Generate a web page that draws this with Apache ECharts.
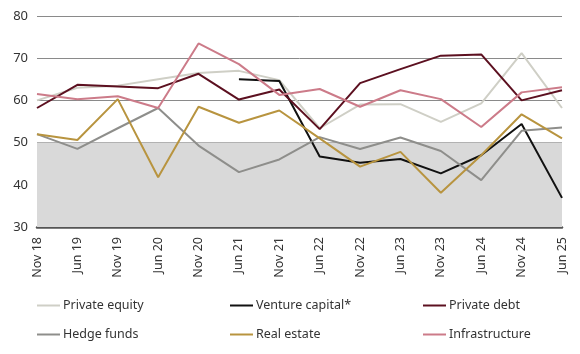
<!DOCTYPE html>
<html><head><meta charset="utf-8">
<script src="https://cdn.jsdelivr.net/npm/echarts@6/dist/echarts.min.js"></script>
<style>html,body{margin:0;padding:0;background:#fff}#c{width:580px;height:354px}</style>
</head><body><div id="c"></div>
<script>
const categories = ['Nov 18','Jun 19','Nov 19','Jun 20','Nov 20','Jun 21','Nov 21','Jun 22','Nov 22','Jun 23','Nov 23','Jun 24','Nov 24','Jun 25'];
const privateEquity = [60, 63, 63.5, 65, 66.5, 67, 64.8, 53.4, 59, 59.1, 54.9, 59.3, 71.2, 58.2];
const ventureCapital = [null, null, null, null, null, 65.0, 64.6, 46.7, 45.2, 46.1, 42.7, 47.0, 54.4, 36.9];
const privateDebt = [58.2, 63.7, 63.3, 62.9, 66.3, 60.2, 62.6, 53.2, 64.1, 67.4, 70.6, 70.9, 60.0, 62.4];
const hedgeFunds = [52, 48.5, 53.4, 58.2, 49.3, 43, 46, 51.3, 48.5, 51.2, 48, 41.1, 52.8, 53.6];
const realEstate = [52, 50.6, 60.3, 41.8, 58.5, 54.7, 57.6, 51, 44.3, 47.8, 38.1, 47, 56.7, 51];
const infrastructure = [61.5, 60.3, 61, 58.2, 73.5, 68.6, 61.3, 62.7, 58.5, 62.4, 60.3, 53.7, 61.9, 63.1];
const yTicks = [30, 40, 50, 60, 70, 80];

const names = ['Private equity','Venture capital*','Private debt','Hedge funds','Real estate','Infrastructure'];
const colors = ['#cfcfc6','#111111','#5c1020','#8e8e8b','#b8943f','#cc7b89'];
const datas = [privateEquity, ventureCapital, privateDebt, hedgeFunds, realEstate, infrastructure];
const legendPos = [[32,294],[225,294],[418,294],[32,323],[225,323],[418,323]];

const series = names.map((n,i)=>({
  name:n, type:'line', data:datas[i], symbol:'none', connectNulls:false,
  lineStyle:{color:colors[i], width:2}, itemStyle:{color:colors[i]},
  z: 3 + i
}));
series[0].z = 2;
series[0].markArea = {silent:true, itemStyle:{color:'#d9d9d9', opacity:1}, data:[[{yAxis:yTicks[0]},{yAxis:yTicks[2]}]]};

const legends = names.map((n,i)=>({
  data:[n], left:legendPos[i][0], top:legendPos[i][1], icon:'rect', itemWidth:23, itemHeight:2, itemGap:0,
  textStyle:{fontFamily:'Noto Sans', fontSize:12.5, color:'#333', padding:[0,0,0,-2]}, selectedMode:false
}));

const chart = echarts.init(document.getElementById('c'));
chart.setOption({
  animation:false,
  grid:{left:37, right:18, top:16, bottom:127},
  legend:legends,
  xAxis:{type:'category', data:categories, boundaryGap:false,
    axisLine:{show:true, lineStyle:{color:'#555', width:2.5}},
    axisTick:{show:false},
    axisLabel:{rotate:90, interval:0, fontFamily:'Noto Sans', fontSize:12.5, color:'#333', margin:10}},
  yAxis:{type:'value', min:30, max:80, interval:10,
    axisLine:{show:false}, axisTick:{show:false},
    axisLabel:{fontFamily:'Noto Sans', fontSize:13, color:'#333', margin:9},
    splitLine:{lineStyle:{color:'#8a8a8a', width:1}}},
  series:series
});
</script></body></html>
